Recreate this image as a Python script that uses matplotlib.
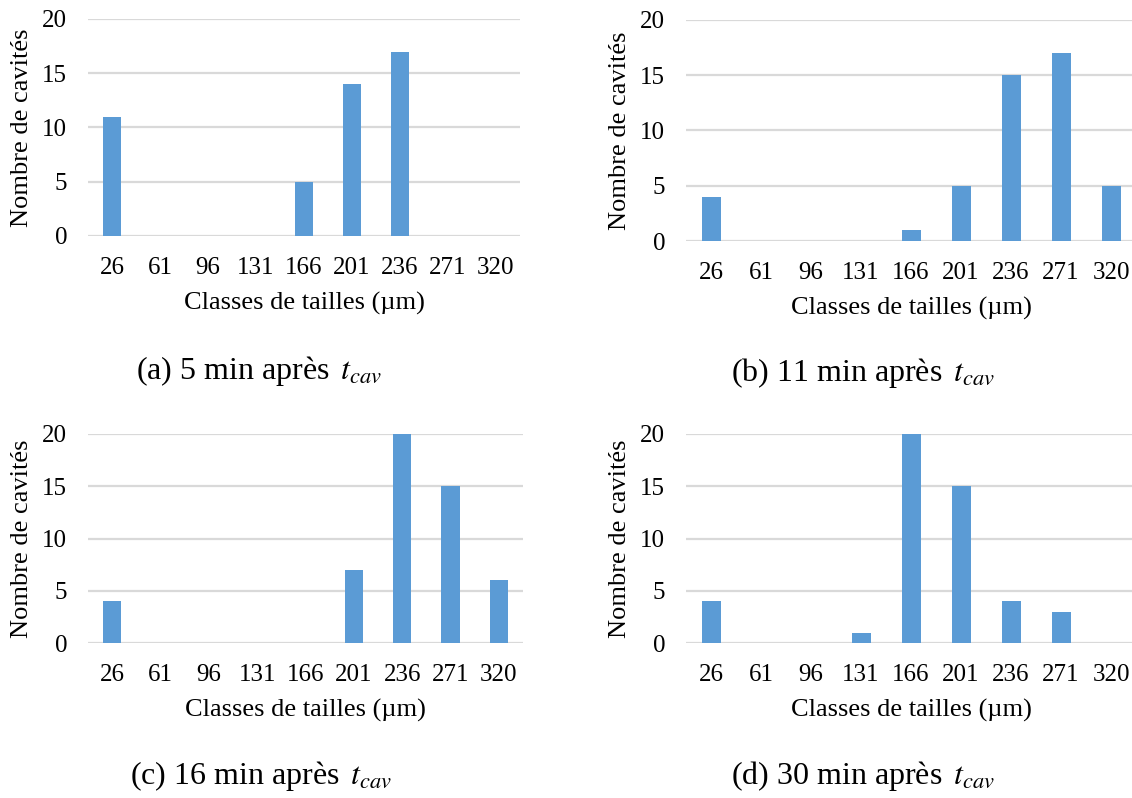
import matplotlib
matplotlib.use("Agg")
import matplotlib.pyplot as plt
import numpy as np

plt.rcParams['font.family'] = ['Liberation Serif', 'DejaVu Serif']
plt.rcParams['mathtext.fontset'] = 'stix'

categories = ["26", "61", "96", "131", "166", "201", "236", "271", "320"]
counts_a = [11, 0, 0, 0, 5, 14, 17, 0, 0]
counts_b = [4, 0, 0, 0, 1, 5, 15, 17, 5]
counts_c = [4, 0, 0, 0, 0, 7, 20, 15, 6]
counts_d = [4, 0, 0, 1, 20, 15, 4, 3, 0]
captions = ["(a) 5 min après", "(b) 11 min après", "(c) 16 min après", "(d) 30 min après"]

W, H = 1132, 798
fig = plt.figure(figsize=(W / 100, H / 100), dpi=100)

# pixel boxes: left, top, right, bottom
boxes = [(88, 19, 520, 236), (686, 20, 1136, 241), (88, 434, 523, 643), (686, 434, 1136, 643)]
cap_pos = [(136, 379), (731, 381), (130, 784), (731, 784)]
series = [counts_a, counts_b, counts_c, counts_d]

bar_color = "#5b9bd5"
grid_color = "#d9d9d9"
x = np.arange(len(categories))

for (l, t, r, b), vals, cap, (cx, cy) in zip(boxes, series, captions, cap_pos):
    wpx, hpx = r - l, b - t
    ax = fig.add_axes([l / W, 1 - b / H, wpx / W, hpx / H])
    ax.bar(x, vals, width=0.38, color=bar_color, zorder=3)
    ax.set_xlim(-0.5, len(categories) - 0.5)
    ax.set_ylim(0, 20)
    ax.set_yticks([0, 5, 10, 15, 20])
    ax.set_xticks(x)
    ax.set_xticklabels(categories)
    ax.tick_params(axis='both', length=0, labelsize=18, colors='black')
    ax.tick_params(axis='x', pad=15)
    ax.tick_params(axis='y', pad=15)
    ax.yaxis.grid(True, color=grid_color, linewidth=1.6, zorder=0)
    for s in ax.spines.values():
        s.set_visible(False)
    ax.set_xlabel("Classes de tailles (µm)", fontsize=19, va='center')
    ax.xaxis.set_label_coords(0.5, -67 / hpx)
    ax.set_ylabel("Nombre de cavités", fontsize=19, va='center')
    ax.yaxis.set_label_coords(-66 / wpx, 0.5)
    fig.text(cx / W, 1 - cy / H, cap + r" $\,t_{cav}$", fontsize=23,
             ha='left', va='baseline')

fig.savefig("out.png", dpi=100)
